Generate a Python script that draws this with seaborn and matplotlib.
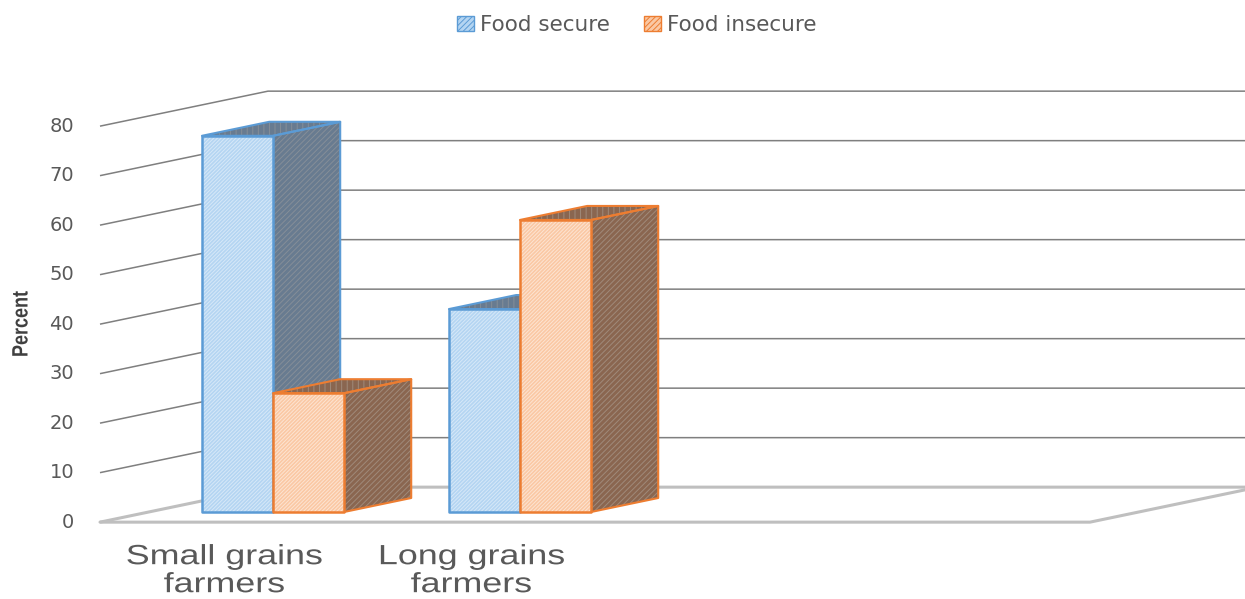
import matplotlib
matplotlib.use("Agg")
import matplotlib.pyplot as plt
import pandas as pd
import seaborn as sns
from matplotlib.patches import Patch, Polygon
from matplotlib.patheffects import AbstractPathEffect
from matplotlib.transforms import Affine2D

categories = ["Small grains\nfarmers", "Long grains\nfarmers"]
series_names = ["Food secure", "Food insecure"]
food_secure = [76, 41]
food_insecure = [24, 59]
value_ticks = [0, 10, 20, 30, 40, 50, 60, 70, 80]

WIDTH_PX, HEIGHT_PX = 1245, 599
PX_PER_CATEGORY = 247
PX_PER_VALUE = 4.95
ORIGIN_PX = (273, 512)          # first group's centre on the bar baseline
DEPTH_DX = 168 / PX_PER_CATEGORY
DEPTH_DY = 35 / PX_PER_VALUE
BAR_NEAR, BAR_FAR = 0.29, 0.69  # depth span of the bars inside the 3-D box
FLOOR_LEFT = (100 - ORIGIN_PX[0]) / PX_PER_CATEGORY + BAR_NEAR * DEPTH_DX
FLOOR_RIGHT = (1090 - ORIGIN_PX[0]) / PX_PER_CATEGORY + BAR_NEAR * DEPTH_DX

STYLES = {
    "Food secure": dict(edge="#5b9bd5", front="#b4d5f2", front_hatch="#d6e8f8",
                        side="#687b90", side_hatch="#858e98"),
    "Food insecure": dict(edge="#ed7d31", front="#fac8a4", front_hatch="#fde4d2",
                          side="#8a6650", side_hatch="#a08a7a"),
}
TEXT_GREY = "#595959"
GRID_GREY = "#7f7f7f"
FLOOR_GREY = "#bfbfbf"


class StretchText(AbstractPathEffect):
    """Scale drawn text along one display axis about the text's anchor point."""

    def __init__(self, text_artist, sx=1.0, sy=1.0):
        super().__init__()
        self.text_artist = text_artist
        self.sx = sx
        self.sy = sy

    def draw_path(self, renderer, gc, tpath, affine, rgbFace=None):
        ax_, ay_ = self.text_artist.get_transform().transform(self.text_artist.get_position())
        stretch = Affine2D().translate(-ax_, -ay_).scale(self.sx, self.sy).translate(ax_, ay_)
        renderer.draw_path(gc, tpath, affine + stretch, rgbFace)


def project(x, value, depth):
    """Position of a point lying `depth` into the box, relative to the bar plane."""
    offset = depth - BAR_NEAR
    return x + offset * DEPTH_DX, value + offset * DEPTH_DY


sns.set_theme(style="white")
plt.rcParams["hatch.linewidth"] = 0.7
plt.rcParams["font.family"] = ["DejaVu Sans"]

fig = plt.figure(figsize=(WIDTH_PX / 100, HEIGHT_PX / 100), dpi=100)
ax = fig.add_axes([0, 0, 1, 1])

frame = pd.DataFrame({
    "category": categories * 2,
    "series": [series_names[0]] * 2 + [series_names[1]] * 2,
    "percent": food_secure + food_insecure,
})
sns.barplot(data=frame, x="category", y="percent", hue="series", hue_order=series_names,
            palette=[STYLES[n]["front"] for n in series_names], width=0.575, gap=0,
            saturation=1, legend=False, ax=ax)

ax.set_xlim(-ORIGIN_PX[0] / PX_PER_CATEGORY, (WIDTH_PX - ORIGIN_PX[0]) / PX_PER_CATEGORY)
ax.set_ylim((ORIGIN_PX[1] - HEIGHT_PX) / PX_PER_VALUE, ORIGIN_PX[1] / PX_PER_VALUE)
ax.set_axis_off()

# Side wall and back wall gridlines
for tick in value_ticks:
    colour, lw = (FLOOR_GREY, 2.2) if tick == 0 else (GRID_GREY, 1.1)
    start = project(FLOOR_LEFT, tick, 0)
    corner = project(FLOOR_LEFT, tick, 1)
    end = project(FLOOR_RIGHT, tick, 1)
    ax.plot([start[0], corner[0], end[0]], [start[1], corner[1], end[1]],
            color=colour, lw=lw, zorder=1, solid_capstyle="butt")
    ax.text(start[0] - 26 / PX_PER_CATEGORY, start[1], str(tick), ha="right", va="center",
            fontsize=14, color=TEXT_GREY)

# Floor outline
floor = [project(FLOOR_LEFT, 0, 0), project(FLOOR_RIGHT, 0, 0), project(FLOOR_RIGHT, 0, 1)]
ax.plot(*zip(*floor), color=FLOOR_GREY, lw=2.2, zorder=1)

# Extrude every bar drawn by seaborn: hatched front, shaded side and top, coloured outline
for idx, (name, container) in enumerate(zip(series_names, ax.containers)):
    style = STYLES[name]
    base_z = 3 + 2 * idx
    for bar in container:
        x0, x1 = bar.get_x(), bar.get_x() + bar.get_width()
        top = bar.get_height()
        near_corners = [(x0, 0), (x1, 0), (x1, top), (x0, top)]

        side = [project(x1, 0, BAR_NEAR), project(x1, 0, BAR_FAR),
                project(x1, top, BAR_FAR), project(x1, top, BAR_NEAR)]
        lid = [project(x0, top, BAR_NEAR), project(x1, top, BAR_NEAR),
               project(x1, top, BAR_FAR), project(x0, top, BAR_FAR)]
        ax.add_patch(Polygon(side, facecolor=style["side"], edgecolor=style["side_hatch"],
                             hatch="//////", lw=0, zorder=base_z))
        ax.add_patch(Polygon(lid, facecolor=style["side"], edgecolor=style["side_hatch"],
                             hatch="|||", lw=0, zorder=base_z))
        for outline in (side, lid):
            ax.add_patch(Polygon(outline, fill=False, edgecolor=style["edge"], lw=1.5,
                                 joinstyle="round", zorder=base_z + 0.5))

        bar.set(edgecolor=style["front_hatch"], hatch="/////////", lw=0, zorder=base_z + 1)
        ax.add_patch(Polygon(near_corners, fill=False, edgecolor=style["edge"], lw=1.8,
                             joinstyle="round", zorder=base_z + 1.5))

# Category labels sit under the bars, on the front edge of the floor
for pos, label in enumerate(categories):
    label_x = pos - BAR_NEAR * DEPTH_DX
    txt = ax.text(label_x, -6.5, label, ha="center", va="top", fontsize=20,
                  family="Liberation Sans", color=TEXT_GREY, linespacing=1.1)
    txt.set_path_effects([StretchText(txt, sx=1.29)])

y_title = fig.text(22 / WIDTH_PX, 1 - 324 / HEIGHT_PX, "Percent", rotation=90, ha="center",
                   va="center", fontsize=16, fontweight="bold", family="Liberation Sans",
                   color="#404040")
y_title.set_path_effects([StretchText(y_title, sy=0.81)])

handles = [Patch(facecolor=STYLES[n]["front"], edgecolor=STYLES[n]["edge"], hatch="//////", lw=1.0)
           for n in series_names]
fig.legend(handles, series_names, loc="center", bbox_to_anchor=(637 / WIDTH_PX, 1 - 25 / HEIGHT_PX),
           ncol=2, frameon=False, fontsize=15.5, labelcolor=TEXT_GREY, handlelength=0.75,
           handleheight=0.75, handletextpad=0.3, columnspacing=1.6)

fig.savefig("out.png", dpi=100, facecolor="white")
